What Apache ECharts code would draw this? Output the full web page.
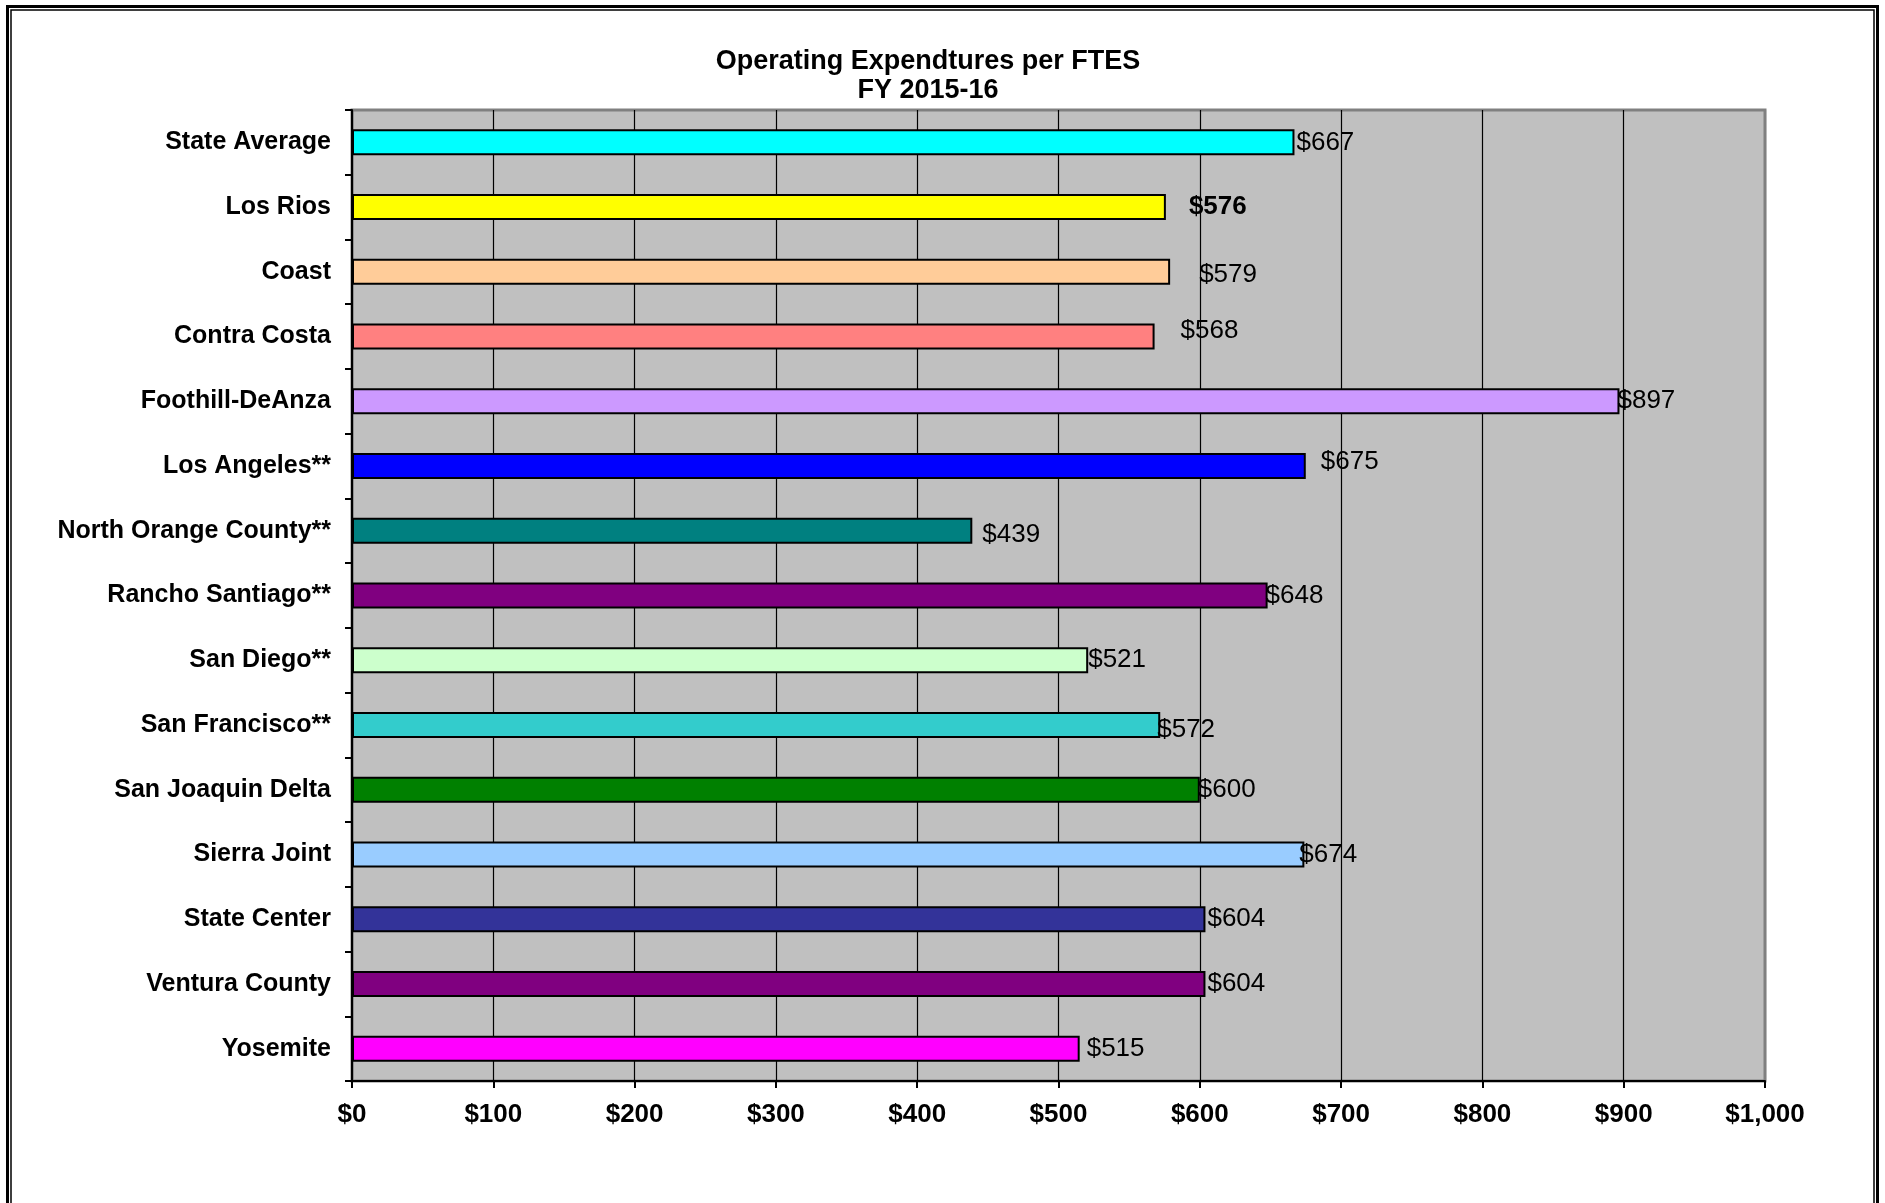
<!DOCTYPE html>
<html>
<head>
<meta charset="utf-8">
<title>Operating Expendtures per FTES</title>
<script src="https://cdn.jsdelivr.net/npm/echarts@6/dist/echarts.min.js"></script>
<style>
  html, body { margin: 0; padding: 0; background: #fff; }
  #main { width: 1885px; height: 1203px; }
</style>
</head>
<body>
<div id="main"></div>
<script>
// districts, top to bottom
const districts = ['State Average', 'Los Rios', 'Coast', 'Contra Costa', 'Foothill-DeAnza',
  'Los Angeles**', 'North Orange County**', 'Rancho Santiago**', 'San Diego**',
  'San Francisco**', 'San Joaquin Delta', 'Sierra Joint', 'State Center', 'Ventura County', 'Yosemite'];
// dollars per FTES
const expenditure = [667, 576, 579, 568, 897, 675, 439, 648, 521, 572, 600, 674, 604, 604, 515];
const barColors = ['#00ffff', '#ffff00', '#ffcc99', '#ff8080', '#cc99ff', '#0000ff', '#008080',
  '#800080', '#ccffcc', '#33cccc', '#008000', '#99ccff', '#333399', '#800080', '#ff00ff'];
const xTicks = [0, 100, 200, 300, 400, 500, 600, 700, 800, 900, 1000];

// value labels were hand-placed in the original, small nudges [dx, dy]
const labelNudge = {
  'Los Rios': [21, 0], 'Coast': [27, 3], 'Contra Costa': [24, -6], 'Foothill-DeAnza': [-4, 0],
  'Los Angeles**': [13, -4], 'North Orange County**': [8, 4], 'Rancho Santiago**': [-4, 0],
  'San Diego**': [-2, 0], 'San Francisco**': [-5, 5], 'San Joaquin Delta': [-4, 0],
  'Sierra Joint': [-7, 0], 'Yosemite': [5, 0]
};

const FONT = '"Liberation Sans", Arial, sans-serif';

function money(v) {
  return '$' + String(v).replace(/\B(?=(\d{3})+(?!\d))/g, ',');
}

const barData = expenditure.map((v, i) => {
  const nudge = labelNudge[districts[i]] || [0, 0];
  return {
    value: v,
    itemStyle: { color: barColors[i] },
    label: {
      offset: nudge,
      fontWeight: districts[i] === 'Los Rios' ? 'bold' : 'normal'
    }
  };
});

const myChart = echarts.init(document.getElementById('main'));

const option = {
  backgroundColor: '#ffffff',
  animation: false,
  title: {
    text: 'Operating Expendtures per FTES\nFY 2015-16',
    left: 923,
    top: 42,
    textAlign: 'center',
    textStyle: {
      fontFamily: FONT,
      fontWeight: 'bold',
      fontSize: 27,
      lineHeight: 29,
      color: '#000'
    }
  },
  grid: {
    left: 352,
    right: 120,
    top: 110,
    bottom: 122,
    show: true,
    backgroundColor: '#c0c0c0',
    borderColor: '#808080',
    borderWidth: 3
  },
  xAxis: {
    type: 'value',
    min: 0,
    max: 1000,
    interval: 100,
    axisLine: { show: true, lineStyle: { color: '#000', width: 2 } },
    axisTick: { show: true, length: 7, lineStyle: { color: '#000', width: 2 } },
    axisLabel: {
      margin: 21,
      color: '#000',
      fontFamily: FONT,
      fontWeight: 'bold',
      fontSize: 26,
      formatter: money
    },
    splitLine: {
      show: true,
      lineStyle: {
        color: xTicks.map(t => (t === 1000 ? '#808080' : '#000')),
        width: 1.2
      }
    }
  },
  yAxis: {
    type: 'category',
    inverse: true,
    data: districts,
    axisLine: { show: true, lineStyle: { color: '#000', width: 2 } },
    axisTick: { show: true, length: 7, lineStyle: { color: '#000', width: 2 } },
    axisLabel: {
      margin: 21,
      color: '#000',
      fontFamily: FONT,
      fontWeight: 'bold',
      fontSize: 25
    },
    splitLine: { show: false }
  },
  series: [{
    type: 'bar',
    data: barData,
    barWidth: 26,
    itemStyle: { borderColor: '#000', borderWidth: 2 },
    label: {
      show: true,
      position: 'right',
      distance: 2,
      color: '#000',
      fontFamily: FONT,
      fontSize: 26,
      formatter: p => money(p.value)
    }
  }],
  graphic: [
    { type: 'rect', shape: { x: 7.5, y: 6.5, width: 1870, height: 1220 },
      style: { fill: 'none', stroke: '#000', lineWidth: 3 }, silent: true },
    { type: 'rect', shape: { x: 11, y: 10, width: 1863, height: 1220 },
      style: { fill: 'none', stroke: '#000', lineWidth: 1.5 }, silent: true }
  ]
};

myChart.setOption(option);
</script>
</body>
</html>
